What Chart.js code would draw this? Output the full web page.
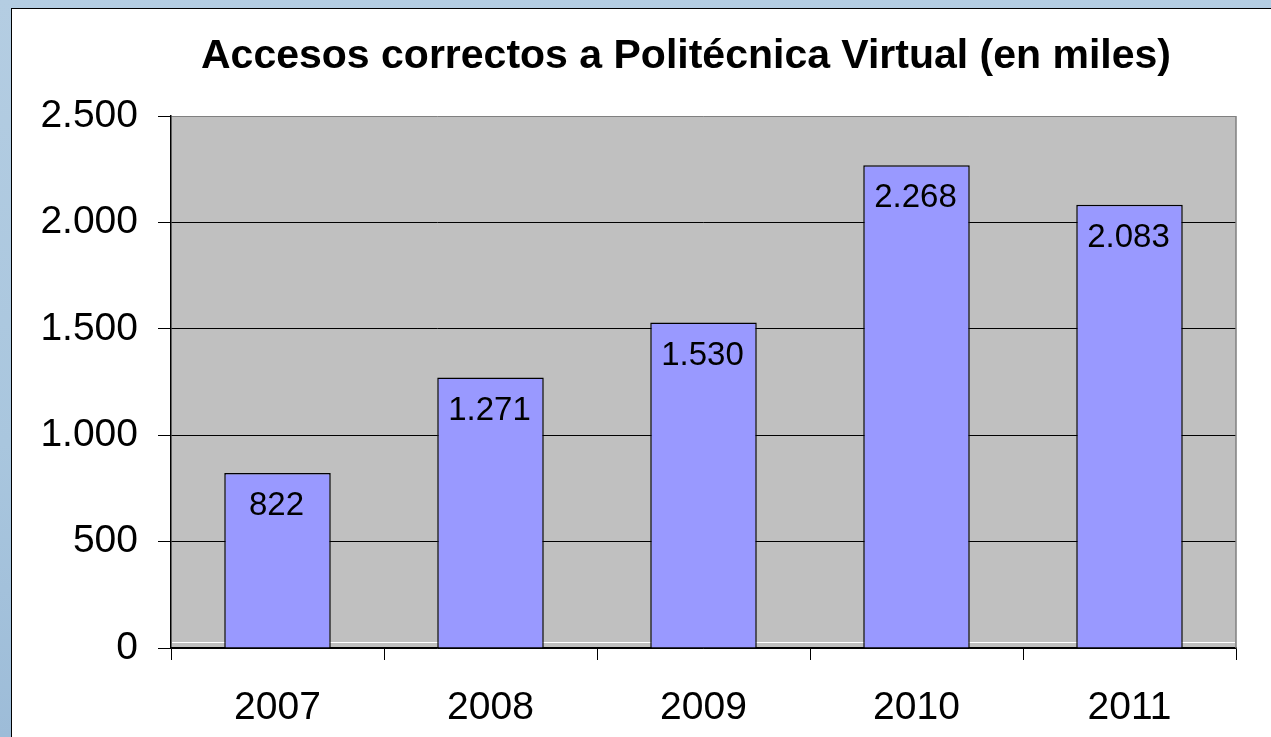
<!DOCTYPE html>
<html lang="es">
<head>
<meta charset="UTF-8">
<title>Accesos correctos a Politécnica Virtual</title>
<script src="https://cdn.jsdelivr.net/npm/chart.js"></script>
<style>
    html, body {
        margin: 0;
        padding: 0;
        width: 1271px;
        height: 737px;
        overflow: hidden;
        background: linear-gradient(180deg, #b4cde2 0%, #a9c6de 60%, #9dbcd8 100%);
    }
    .panel {
        position: absolute;
        left: 11px;
        top: 8px;
        width: 1300px;
        height: 800px;
        background: #fff;
        border-left: 1px solid #000;
        border-top: 1px solid #000;
    }
    .wrap {
        position: absolute;
        left: 0;
        top: 0;
        width: 1271px;
        height: 737px;
    }
</style>
</head>
<body>
<div class="panel"></div>
<div class="wrap"><canvas id="chart" width="1271" height="737"></canvas></div>

<script>
const years = ['2007', '2008', '2009', '2010', '2011'];
const accesos = [822, 1271, 1530, 2268, 2083];
const titulo = 'Accesos correctos a Politécnica Virtual (en miles)';

const FONT = '"Liberation Sans", Arial, sans-serif';

// separador de miles con punto, tambien para 4 cifras
const fmt = v => String(Math.round(v)).replace(/\B(?=(\d{3})+(?!\d))/g, '.');

const fondoPlot = {
    id: 'fondoPlot',
    beforeDraw(chart) {
        const { ctx, chartArea: a } = chart;
        ctx.save();
        ctx.fillStyle = '#c0c0c0';
        ctx.fillRect(a.left, a.top, a.right - a.left, a.bottom - a.top);
        ctx.restore();
    },
    beforeDatasetsDraw(chart) {
        const { ctx, chartArea: a } = chart;
        ctx.save();
        // borde derecho gris
        ctx.strokeStyle = '#808080';
        ctx.lineWidth = 1.5;
        ctx.beginPath();
        ctx.moveTo(a.right, a.top);
        ctx.lineTo(a.right, a.bottom);
        ctx.stroke();
        // linea blanca justo encima del eje
        ctx.strokeStyle = '#ffffff';
        ctx.lineWidth = 1;
        ctx.beginPath();
        ctx.moveTo(a.left + 1, a.bottom - 5.5);
        ctx.lineTo(a.right - 1, a.bottom - 5.5);
        ctx.stroke();
        ctx.restore();
    }
};

// titulo dibujado a mano: en el original no esta centrado sobre el lienzo
const tituloPlugin = {
    id: 'tituloPlugin',
    afterDraw(chart) {
        const { ctx } = chart;
        ctx.save();
        ctx.font = 'bold 41px ' + FONT;
        ctx.fillStyle = '#000';
        ctx.textAlign = 'center';
        ctx.textBaseline = 'middle';
        ctx.fillText(titulo, 686, 57);
        ctx.restore();
    }
};

const etiquetas = {
    id: 'etiquetas',
    afterDatasetsDraw(chart) {
        const { ctx } = chart;
        const meta = chart.getDatasetMeta(0);
        ctx.save();
        ctx.font = '33px ' + FONT;
        ctx.fillStyle = '#000';
        ctx.textAlign = 'center';
        ctx.textBaseline = 'middle';
        meta.data.forEach((bar, i) => {
            ctx.fillText(fmt(accesos[i]), bar.x - 1, bar.y + 33);
        });
        ctx.restore();
    }
};

new Chart(document.getElementById('chart'), {
    type: 'bar',
    data: {
        labels: years,
        datasets: [{
            data: accesos,
            backgroundColor: '#9999ff',
            borderColor: '#000',
            borderWidth: 1.5,
            barPercentage: 0.5,
            categoryPercentage: 1.0
        }]
    },
    options: {
        responsive: false,
        animation: false,
        devicePixelRatio: 1,
        layout: { padding: { left: 0, right: 35, top: 116, bottom: 0 } },
        plugins: {
            legend: { display: false },
            tooltip: { enabled: false },
            title: { display: false }
        },
        scales: {
            x: {
                grid: {
                    offset: true,
                    drawOnChartArea: false,
                    tickLength: 12,
                    tickColor: '#000'
                },
                border: { color: '#000', width: 1.5 },
                ticks: {
                    color: '#000',
                    padding: 25,
                    font: { family: FONT, size: 39 }
                },
                afterFit: s => { s.height = 89; }
            },
            y: {
                min: 0,
                max: 2500,
                ticks: {
                    stepSize: 500,
                    color: '#000',
                    padding: 20,
                    font: { family: FONT, size: 39 },
                    callback: v => fmt(v)
                },
                grid: {
                    color: c => c.tick && c.tick.value === 2500 ? '#808080' : '#000',
                    lineWidth: 1,
                    tickLength: 13,
                    tickColor: '#000'
                },
                border: { color: '#000', width: 1.5 },
                afterFit: s => { s.width = 171; }
            }
        }
    },
    plugins: [fondoPlot, etiquetas, tituloPlugin]
});
</script>
</body>
</html>
